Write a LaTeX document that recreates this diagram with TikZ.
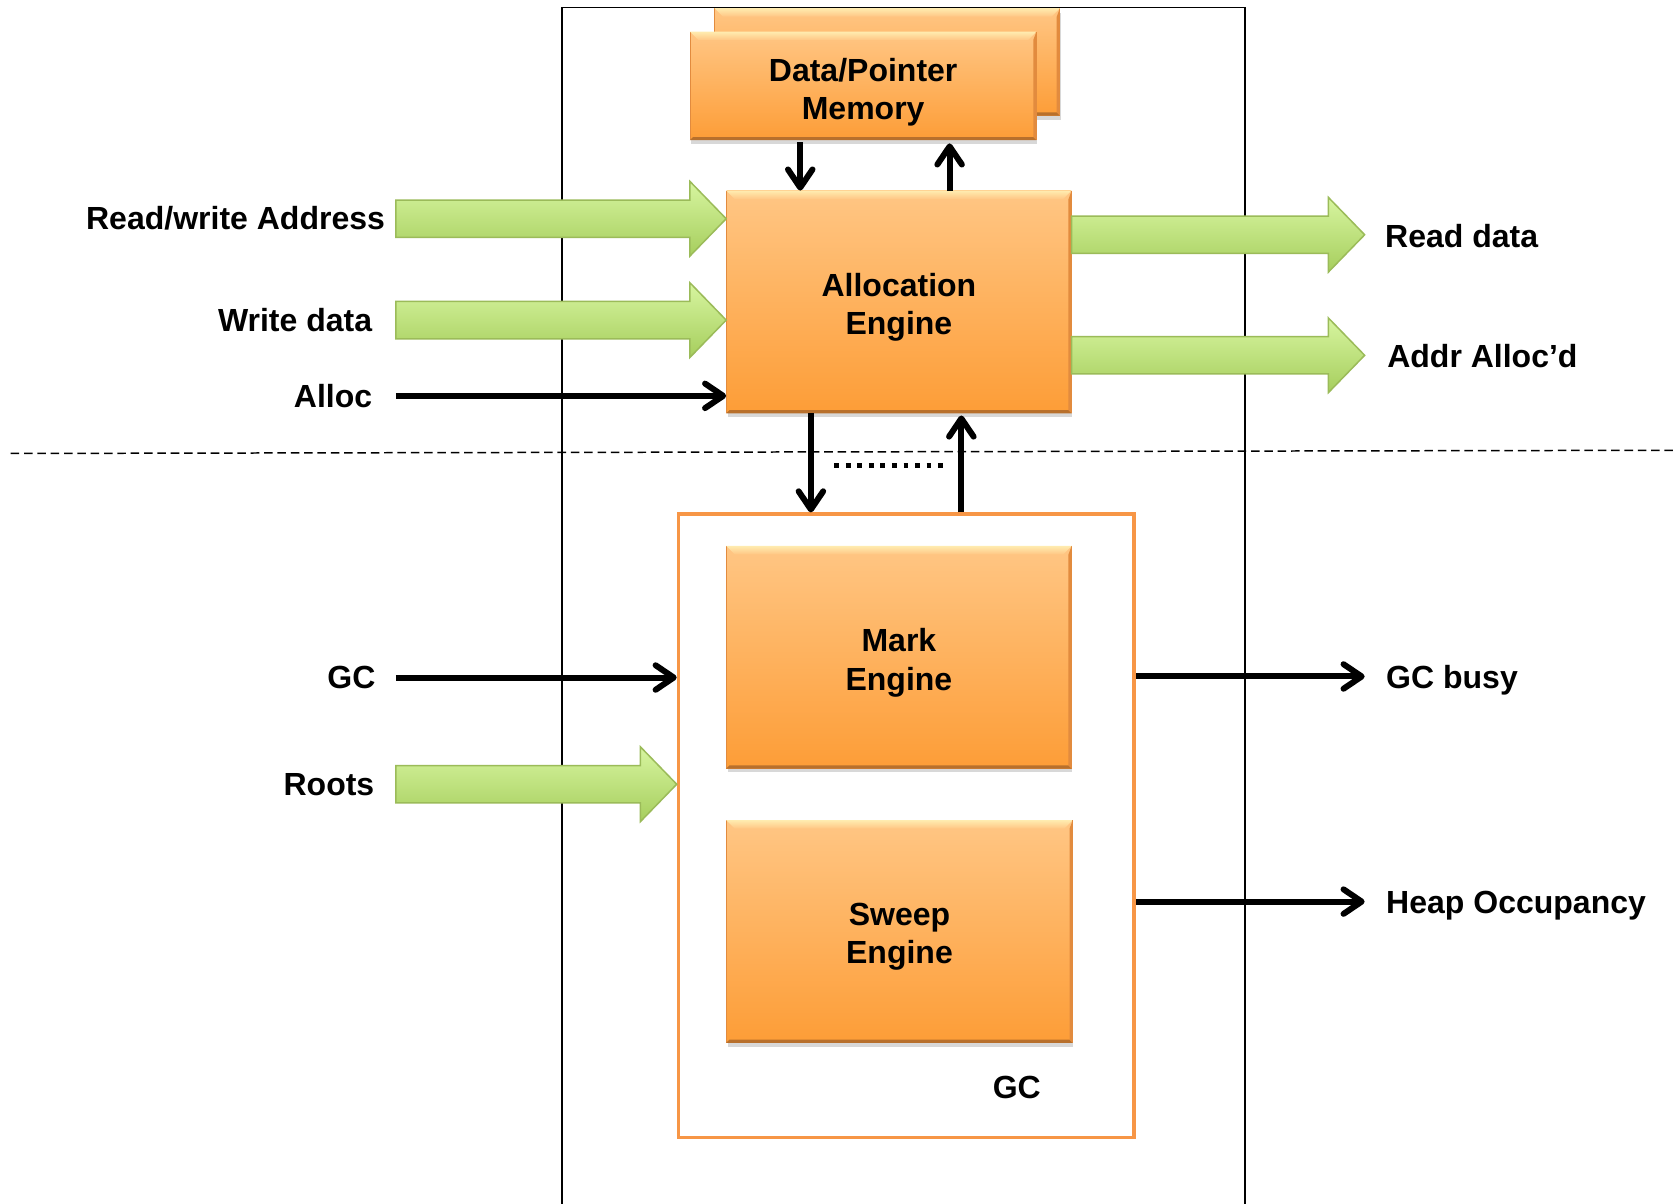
\documentclass[tikz,border=0pt]{standalone}
\usepackage{fontspec}
\setmainfont{Liberation Sans}
\usetikzlibrary{arrows.meta,shadows,calc}

\definecolor{orTop}{RGB}{255,198,132}
\definecolor{orBot}{RGB}{253,157,55}
\definecolor{orEdge}{RGB}{226,139,62}
\definecolor{orHi}{RGB}{255,236,176}
\definecolor{orLo}{RGB}{184,112,44}
\definecolor{gcLine}{RGB}{247,150,70}
\definecolor{grTop}{RGB}{215,245,160}
\definecolor{grBot}{RGB}{166,206,93}
\definecolor{grEdge}{RGB}{155,187,89}

\tikzset{
  lbl/.style={font=\fontsize{30}{36}\selectfont\bfseries, inner sep=0pt},
  boxtxt/.style={lbl, align=center, yshift=-5pt},
  engine/.style={rectangle, top color=orTop, bottom color=orBot, draw=orEdge,
    line width=0.8pt, align=center, inner sep=0pt,
    drop shadow={shadow xshift=1pt, shadow yshift=-4pt, opacity=0.3}},
  blk/.style={line width=5.6pt, -{Straight Barb[length=17pt,width=23pt,round]}},
  fat/.style={top color=grTop, bottom color=grBot, draw=grEdge, line width=1.4pt},
  frameline/.style={line width=1.5pt},
  splitline/.style={line width=1.4pt, dash pattern=on 8pt off 4.5pt},
}

% bevelled rim of an engine box
\newcommand\bevel[1]{%
  \shade[top color=orHi, bottom color=orTop] (#1.north west) -- (#1.north east)
    -- ([shift={(-8pt,-8pt)}]#1.north east) -- ([shift={(8pt,-8pt)}]#1.north west) -- cycle;
  \fill[orLo] (#1.south west) -- (#1.south east)
    -- ([shift={(-3pt,3pt)}]#1.south east) -- ([shift={(3pt,3pt)}]#1.south west) -- cycle;
  \fill[orEdge] (#1.north east) -- (#1.south east)
    -- ([shift={(-3pt,3pt)}]#1.south east) -- ([shift={(-3pt,-8pt)}]#1.north east) -- cycle;}

% wide green bus arrow between two points on one row
\newcommand\fatarrow[2]{%
  \path[fat] let \p1=(#1), \p2=(#2) in
    (\x1,\y1+17.5pt) -- (\x2-34pt,\y1+17.5pt) -- (\x2-34pt,\y1+35pt) -- (\x2,\y1)
    -- (\x2-34pt,\y1-35pt) -- (\x2-34pt,\y1-17.5pt) -- (\x1,\y1-17.5pt) -- cycle;}

\begin{document}
\begin{tikzpicture}[x=1pt,y=-1pt]
\useasboundingbox[fill=white] (0,0) rectangle (1568,1128);

% hardware frame and the split line
\draw[frameline] (527,1128) -- (527,7) -- (1167,7) -- (1167,1128);
\draw[splitline] (10,425) -- (1568,422);

% garbage collector enclosure
\node[draw=gcLine, line width=3.5pt, minimum width=427pt, minimum height=584pt] (gcbox) at (849.5,774) {};
\node[lbl, anchor=base] (gclbl) at (953,1030) {GC};

% engines
\node[engine, minimum width=323pt, minimum height=100pt] (memback) at (831.5,58) {};
\bevel{memback}
\node[engine, minimum width=324pt, minimum height=101pt] (mem) at (809,80.5) {};
\bevel{mem}
\node[boxtxt, yshift=-1pt] (memtxt) at (mem) {Data/Pointer\\Memory};
\node[engine, minimum width=323pt, minimum height=208pt] (alloc) at (842.5,283) {};
\bevel{alloc}
\node[boxtxt] (alloctxt) at (alloc) {Allocation\\Engine};
\node[engine, minimum width=323pt, minimum height=208pt] (mark) at (842.5,616) {};
\bevel{mark}
\node[boxtxt] (marktxt) at (mark) {Mark\\Engine};
\node[engine, minimum width=324pt, minimum height=208pt] (sweep) at (843,873) {};
\bevel{sweep}
\node[boxtxt] (sweeptxt) at (sweep) {Sweep\\Engine};

% free ends of the external signals
\coordinate (rwa) at (371,205);
\coordinate (wd) at (371,300);
\coordinate (al) at (371,371);
\coordinate (gcin) at (371,635);
\coordinate (roots) at (371,735);
\coordinate (rd) at (1279,220);
\coordinate (aa) at (1279,333);
\coordinate (gcb) at (1279,634);
\coordinate (heap) at (1279,845);

% signal labels
\node[lbl, anchor=base east] (lrwa) at (361,215) {Read/write Address};
\node[lbl, anchor=base east] (lwd) at (349,311) {Write data};
\node[lbl, anchor=base east] (lal) at (349,382) {Alloc};
\node[lbl, anchor=base east] (lgc) at (352,645) {GC};
\node[lbl, anchor=base east] (lroots) at (351,746) {Roots};
\node[lbl, anchor=base west] (lrd) at (1298,232) {Read data};
\node[lbl, anchor=base west] (laa) at (1300,344) {Addr Alloc’d};
\node[lbl, anchor=base west] (lgcb) at (1299,645) {GC busy};
\node[lbl, anchor=base west] (lheap) at (1299,856) {Heap Occupancy};

% data buses
\fatarrow{rwa}{alloc.west |- rwa}
\fatarrow{wd}{alloc.west |- wd}
\fatarrow{roots}{gcbox.west |- roots}
\fatarrow{alloc.east |- rd}{rd}
\fatarrow{alloc.east |- aa}{aa}

% control signals
\draw[blk] (al) -- (alloc.west |- al);
\draw[blk] (gcin) -- (gcbox.west |- gcin);
\draw[blk] (gcbox.east |- gcb) -- (gcb);
\draw[blk] (gcbox.east |- heap) -- (heap);

% memory <-> allocation engine
\draw[blk] ([yshift=-2pt]750,0 |- mem.south) -- (750,0 |- alloc.north);
\draw[blk] (890,0 |- alloc.north) -- ([yshift=-3pt]890,0 |- mem.south);

% allocation engine <-> collector
\draw[blk] (760,0 |- alloc.south) -- (760,0 |- gcbox.north);
\draw[blk] (901,0 |- gcbox.north) -- ([yshift=-2pt]901,0 |- alloc.south);
\draw[line width=4.5pt, dash pattern=on 4.5pt off 6.3pt] (782,436) -- (886,436);
\end{tikzpicture}
\end{document}
